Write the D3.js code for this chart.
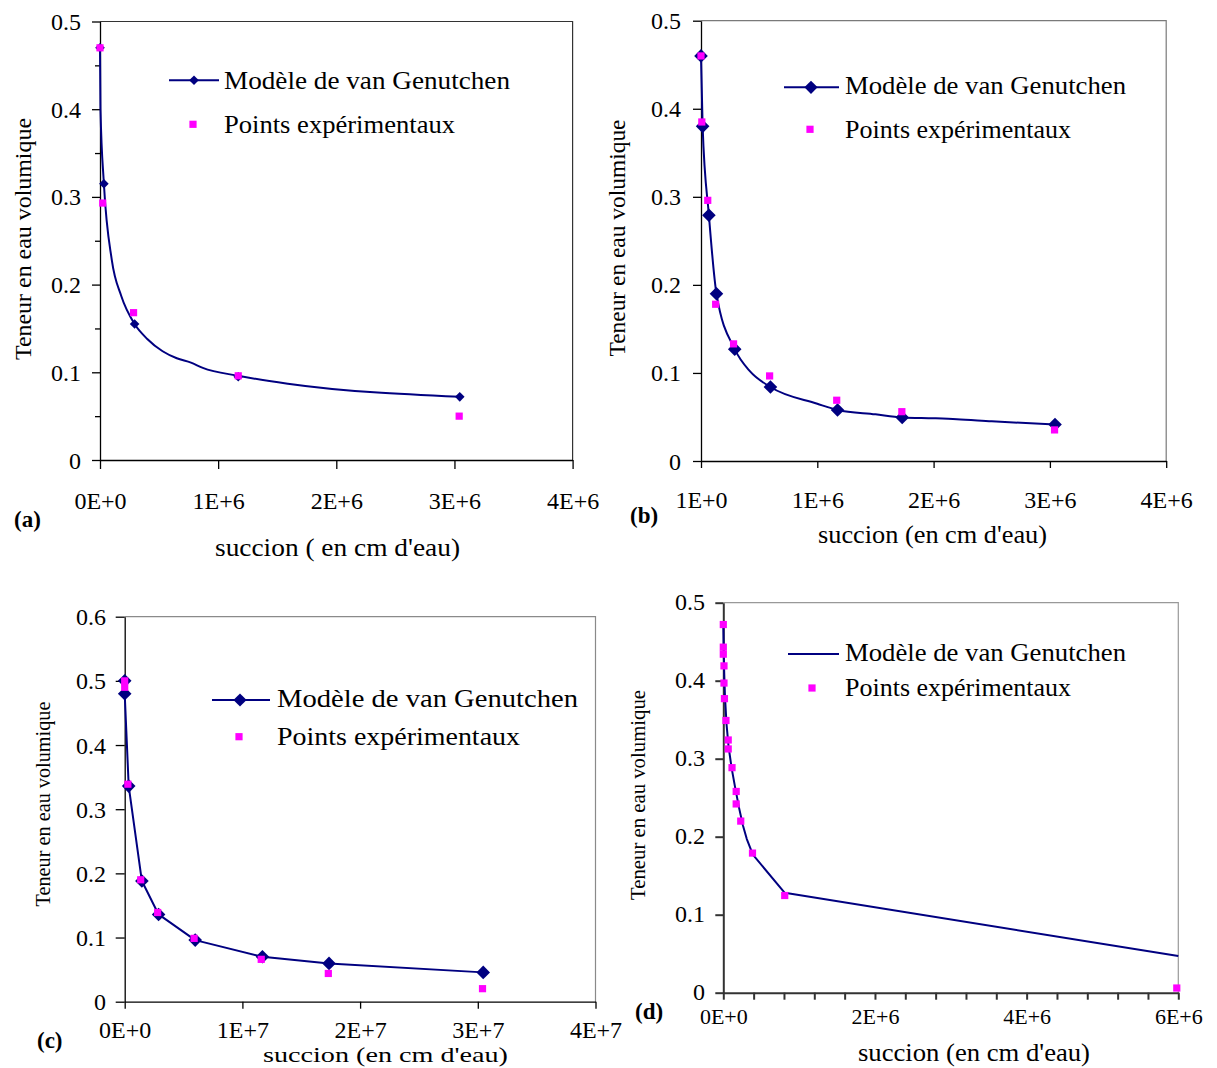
<!DOCTYPE html>
<html><head><meta charset="utf-8">
<script src="https://cdn.jsdelivr.net/npm/d3@7"></script>
<style>
body{margin:0;background:#fff}
svg{display:block}
text{font-family:"Liberation Serif","Times New Roman",serif;fill:#000}
</style>
</head><body>
<svg id="chart" width="1217" height="1068"></svg>
<script>
// ---------- DATA ----------
// (a)
const aCurveSuction = [0, 4e3, 3.3e4, 1.0e5, 1.8e5, 2.93e5, 4.0e5, 5.3e5, 6.5e5, 7.7e5, 8.7e5, 1.17e6, 1.59e6, 3.045e6];
const aCurveTheta   = [0.47, 0.40, 0.315, 0.228, 0.187, 0.155, 0.138, 0.124, 0.116, 0.111, 0.105, 0.096, 0.087, 0.072];
const aModelSuction = [0, 3.3e4, 2.93e5, 1.17e6, 3.045e6];
const aModelTheta   = [0.47, 0.315, 0.155, 0.095, 0.072];
const aExpSuction   = [0, 2.3e4, 2.84e5, 1.17e6, 3.04e6];
const aExpTheta     = [0.47, 0.293, 0.168, 0.096, 0.050];
// (b)
const bCurveSuction = [0, 1.4e4, 6.8e4, 1.33e5, 2.9e5, 4.2e5, 5.97e5, 1.0e6, 1.174e6, 1.5e6, 1.73e6, 2.0e6, 2.2e6, 2.5e6, 3.044e6];
const bCurveTheta   = [0.46, 0.38, 0.279, 0.19, 0.127, 0.102, 0.084, 0.065, 0.058, 0.053, 0.0495, 0.0485, 0.0475, 0.045, 0.0414];
const bModelSuction = [0, 1.4e4, 6.8e4, 1.33e5, 2.9e5, 5.97e5, 1.174e6, 1.73e6, 3.044e6];
const bModelTheta   = [0.46, 0.38, 0.279, 0.19, 0.127, 0.084, 0.058, 0.0495, 0.0414];
const bExpSuction   = [0, 7e3, 5.8e4, 1.26e5, 2.8e5, 5.9e5, 1.167e6, 1.727e6, 3.04e6];
const bExpTheta     = [0.46, 0.385, 0.296, 0.178, 0.133, 0.0966, 0.069, 0.056, 0.0353];
// (c)
const cModelSuction = [0, 0, 3.4e5, 1.46e6, 2.88e6, 5.99e6, 1.17e7, 1.736e7, 3.046e7];
const cModelTheta   = [0.50, 0.48, 0.336, 0.188, 0.136, 0.096, 0.070, 0.0597, 0.0457];
const cExpSuction   = [0, 0, 2.7e5, 1.36e6, 2.8e6, 5.9e6, 1.16e7, 1.73e7, 3.04e7];
const cExpTheta     = [0.50, 0.49, 0.339, 0.19, 0.139, 0.0987, 0.066, 0.044, 0.0203];
// (d)
const dCurveSuction = [0, 5e3, 1.2e4, 2.2e4, 4.2e4, 7e4, 1.1e5, 1.6e5, 2.1e5, 2.6e5, 3.1e5, 3.9e5, 8.1e5, 6.0e6];
const dCurveTheta   = [0.472, 0.44, 0.41, 0.38, 0.345, 0.315, 0.288, 0.261, 0.236, 0.214, 0.197, 0.177, 0.128, 0.047];
const dExpSuction   = [0, 0, 0, 9e3, 9e3, 1.5e4, 3.5e4, 6.5e4, 6.5e4, 1.15e5, 1.7e5, 1.7e5, 2.3e5, 3.85e5, 8.1e5, 5.98e6];
const dExpTheta     = [0.472, 0.443, 0.434, 0.419, 0.397, 0.377, 0.349, 0.324, 0.3125, 0.2885, 0.258, 0.242, 0.22, 0.179, 0.1246, 0.006];

// ticks
const abXTicks = [0, 1e6, 2e6, 3e6, 4e6];
const aXTickLabels = ["0E+0", "1E+6", "2E+6", "3E+6", "4E+6"];
const bXTicks = [1, 1e6, 2e6, 3e6, 4e6];
const bXTickLabels = ["1E+0", "1E+6", "2E+6", "3E+6", "4E+6"];
const cXTicks = [0, 1e7, 2e7, 3e7, 4e7];
const cXTickLabels = ["0E+0", "1E+7", "2E+7", "3E+7", "4E+7"];
const dXTicks = [0, 4e5, 8e5, 1.2e6, 1.6e6, 2e6, 2.4e6, 2.8e6, 3.2e6, 3.6e6, 4e6, 4.4e6, 4.8e6, 5.2e6, 5.6e6, 6e6];
const dXTickLabels = ["0E+0", "", "", "", "", "2E+6", "", "", "", "", "4E+6", "", "", "", "", "6E+6"];
const y05Ticks = [0, 0.1, 0.2, 0.3, 0.4, 0.5];
const y05TickLabels = ["0", "0.1", "0.2", "0.3", "0.4", "0.5"];
const y06Ticks = [0, 0.1, 0.2, 0.3, 0.4, 0.5, 0.6];
const y06TickLabels = ["0", "0.1", "0.2", "0.3", "0.4", "0.5", "0.6"];
const aYMinorTicks = [0.05, 0.15, 0.25, 0.35, 0.45];

const legendModel = "Modèle de van Genutchen";
const legendExp = "Points expérimentaux";
const yTitle = "Teneur en eau volumique";

const zip = (xs, ys) => xs.map((x, i) => [x, ys[i]]);

// ---------- PANELS ----------
const panels = [
  {
    left: 100, right: 572.6, top: 21.5, bottom: 460,
    xDomain: [0, 4e6], yDomain: [0, 0.5],
    xTicks: abXTicks, xLabels: aXTickLabels, yTicks: y05Ticks, yLabels: y05TickLabels, yMinor: aYMinorTicks,
    curveType: d3.curveMonotoneX, curve: zip(aCurveSuction, aCurveTheta),
    marks: zip(aModelSuction, aModelTheta), diamondR: 4.8, exp: zip(aExpSuction, aExpTheta),
    tickFont: 24, xTickFont: 24, xTickBase: 509, yLabelRight: 81, yLabelDy: 8, xTickLen: 9, yTickLen: 8,
    axisColor: "#000", axisW: 1.3, borderColor: "#333",
    legend: { x1: 169, x2: 219, ly: 80.3, dx: 194, tx: 224, b1: 89.3, l1: 286, sx: 193, sy: 124.3, b2: 132.7, l2: 231, font: 26, dr: 4.8, diamond: true },
    xTitle: { text: "succion ( en cm d'eau)", x: 215, base: 556, len: 245, font: 25 },
    yTitle: { x: 30.5, y: 239, len: 242, font: 23 },
    tag: { text: "(a)", x: 14, base: 527 }
  },
  {
    left: 701, right: 1166.2, top: 20.7, bottom: 461,
    xDomain: [0, 4e6], yDomain: [0, 0.5],
    xTicks: bXTicks, xLabels: bXTickLabels, yTicks: y05Ticks, yLabels: y05TickLabels, yMinor: [],
    curveType: d3.curveMonotoneX, curve: zip(bCurveSuction, bCurveTheta),
    marks: zip(bModelSuction, bModelTheta), diamondR: 6.8, exp: zip(bExpSuction, bExpTheta),
    tickFont: 24, xTickFont: 24, xTickBase: 508, yLabelRight: 681, yLabelDy: 8, xTickLen: 7, yTickLen: 8,
    axisColor: "#000", axisW: 1.3, borderColor: "#7a7a7a",
    legend: { x1: 784, x2: 839, ly: 87.3, dx: 811, tx: 845, b1: 94, l1: 281, sx: 810, sy: 129.3, b2: 137.7, l2: 226, font: 26, dr: 6.6, diamond: true },
    xTitle: { text: "succion (en cm d'eau)", x: 818, base: 543, len: 229, font: 25 },
    yTitle: { x: 625, y: 238, len: 237, font: 23 },
    tag: { text: "(b)", x: 630, base: 523 }
  },
  {
    left: 124.7, right: 595.5, top: 616.7, bottom: 1001.7,
    xDomain: [0, 4e7], yDomain: [0, 0.6],
    xTicks: cXTicks, xLabels: cXTickLabels, yTicks: y06Ticks, yLabels: y06TickLabels, yMinor: [],
    curveType: d3.curveLinear, curve: zip(cModelSuction, cModelTheta),
    marks: zip(cModelSuction, cModelTheta), diamondR: 6.8, exp: zip(cExpSuction, cExpTheta),
    tickFont: 24, xTickFont: 24, xTickBase: 1038, yLabelRight: 106, yLabelDy: 8, xTickLen: 7, yTickLen: 9,
    axisColor: "#000", axisW: 1.3, borderColor: "#8a8a8a",
    legend: { x1: 212, x2: 270, ly: 700, dx: 240, tx: 277, b1: 707, l1: 301, sx: 239, sy: 736.7, b2: 745, l2: 243, font: 26, dr: 6.6, diamond: true },
    xTitle: { text: "succion (en cm d'eau)", x: 263, base: 1062, len: 245, font: 22 },
    yTitle: { x: 50, y: 804, len: 205, font: 21 },
    tag: { text: "(c)", x: 37, base: 1048 }
  },
  {
    left: 723.3, right: 1178.3, top: 602.7, bottom: 992.7,
    xDomain: [0, 6e6], yDomain: [0, 0.5],
    xTicks: dXTicks, xLabels: dXTickLabels, yTicks: y05Ticks, yLabels: y05TickLabels, yMinor: [],
    curveType: d3.curveLinear, curve: zip(dCurveSuction, dCurveTheta),
    marks: [], diamondR: 0, exp: zip(dExpSuction, dExpTheta),
    tickFont: 24, xTickFont: 22, xTickBase: 1024, yLabelRight: 705, yLabelDy: 6.5, xTickLen: 7, yTickLen: 8,
    axisColor: "#333", axisW: 2, borderColor: "#999",
    legend: { x1: 788, x2: 839, ly: 654, dx: 0, tx: 845, b1: 661, l1: 281, sx: 812, sy: 688, b2: 696, l2: 226, font: 26, dr: 0, diamond: false },
    xTitle: { text: "succion (en cm d'eau)", x: 858, base: 1061, len: 232, font: 25 },
    yTitle: { x: 645, y: 795, len: 210, font: 21 },
    tag: { text: "(d)", x: 635, base: 1019 }
  }
];

const svg = d3.select("#chart");
const NAVY = "#000080", PINK = "#FF00FF";
const FONT = '"Liberation Serif","Times New Roman",serif';
const diamondPath = r => `M0,${-r}L${r},0L0,${r}L${-r},0Z`;

panels.forEach(p => {
  const g = svg.append("g");
  const x = d3.scaleLinear().domain(p.xDomain).range([p.left, p.right]);
  const y = d3.scaleLinear().domain(p.yDomain).range([p.bottom, p.top]);

  // plot border (top + right)
  g.append("path")
    .attr("d", `M${p.left},${p.top}H${p.right}V${p.bottom}`)
    .attr("fill", "none").attr("stroke", p.borderColor).attr("stroke-width", 1.2);

  // minor y ticks
  if (p.yMinor.length) {
    const gm = g.append("g").attr("transform", `translate(${p.left},0)`)
      .call(d3.axisLeft(y).tickValues(p.yMinor).tickSize(5).tickFormat(""));
    gm.select(".domain").remove();
    gm.selectAll("line").attr("stroke", p.axisColor).attr("stroke-width", p.axisW);
  }

  // y axis
  const gy = g.append("g").attr("transform", `translate(${p.left},0)`)
    .call(d3.axisLeft(y).tickValues(p.yTicks).tickSize(p.yTickLen).tickSizeOuter(0)
      .tickFormat((d, i) => p.yLabels[i]));
  gy.attr("font-family", FONT);
  gy.select(".domain").attr("stroke", p.axisColor).attr("stroke-width", p.axisW);
  gy.selectAll("line").attr("stroke", p.axisColor).attr("stroke-width", p.axisW);
  gy.selectAll("text")
    .attr("x", p.yLabelRight - p.left).attr("y", p.yLabelDy).attr("dy", null)
    .attr("text-anchor", "end")
    .style("font-family", FONT)
    .style("font-size", p.tickFont + "px").attr("fill", "#000");

  // x axis
  const gx = g.append("g").attr("transform", `translate(0,${p.bottom})`)
    .call(d3.axisBottom(x).tickValues(p.xTicks).tickSize(p.xTickLen).tickSizeOuter(0)
      .tickFormat((d, i) => p.xLabels[i]));
  gx.attr("font-family", FONT);
  gx.select(".domain").attr("stroke", p.axisColor).attr("stroke-width", p.axisW);
  gx.selectAll("line").attr("stroke", p.axisColor).attr("stroke-width", p.axisW);
  gx.selectAll("text")
    .attr("y", p.xTickBase - p.bottom).attr("dy", null)
    .style("font-family", FONT)
    .style("font-size", p.xTickFont + "px").attr("fill", "#000");

  // model line
  const line = d3.line().x(d => x(d[0])).y(d => y(d[1])).curve(p.curveType);
  g.append("path").datum(p.curve)
    .attr("d", line).attr("fill", "none")
    .attr("stroke", NAVY).attr("stroke-width", 2).attr("stroke-linejoin", "round");

  // model diamonds
  g.selectAll(".dm").data(p.marks).enter().append("path")
    .attr("transform", d => `translate(${x(d[0])},${y(d[1])})`)
    .attr("d", diamondPath(p.diamondR)).attr("fill", NAVY);

  // experimental squares
  g.selectAll(".sq").data(p.exp).enter().append("rect")
    .attr("x", d => x(d[0]) - 3.6).attr("y", d => y(d[1]) - 3.6)
    .attr("width", 7.2).attr("height", 7.2).attr("fill", PINK);

  // legend
  const L = p.legend;
  g.append("line").attr("x1", L.x1).attr("x2", L.x2).attr("y1", L.ly).attr("y2", L.ly)
    .attr("stroke", NAVY).attr("stroke-width", 2);
  if (L.diamond) {
    g.append("path").attr("transform", `translate(${L.dx},${L.ly})`)
      .attr("d", diamondPath(L.dr)).attr("fill", NAVY);
  }
  g.append("text").attr("x", L.tx).attr("y", L.b1)
    .attr("textLength", L.l1).attr("lengthAdjust", "spacingAndGlyphs")
    .style("font-size", L.font + "px").text(legendModel);
  g.append("rect").attr("x", L.sx - 3.6).attr("y", L.sy - 3.6)
    .attr("width", 7.2).attr("height", 7.2).attr("fill", PINK);
  g.append("text").attr("x", L.tx).attr("y", L.b2)
    .attr("textLength", L.l2).attr("lengthAdjust", "spacingAndGlyphs")
    .style("font-size", L.font + "px").text(legendExp);

  // axis titles
  g.append("text").attr("x", p.xTitle.x).attr("y", p.xTitle.base)
    .attr("textLength", p.xTitle.len).attr("lengthAdjust", "spacingAndGlyphs")
    .style("font-size", p.xTitle.font + "px").text(p.xTitle.text);
  g.append("text")
    .attr("transform", `translate(${p.yTitle.x},${p.yTitle.y}) rotate(-90)`)
    .attr("text-anchor", "middle")
    .attr("textLength", p.yTitle.len).attr("lengthAdjust", "spacingAndGlyphs")
    .style("font-size", p.yTitle.font + "px").text(yTitle);

  // panel tag
  g.append("text").attr("x", p.tag.x).attr("y", p.tag.base)
    .style("font-size", "23px").style("font-weight", "bold").text(p.tag.text);
});
</script>
</body></html>
